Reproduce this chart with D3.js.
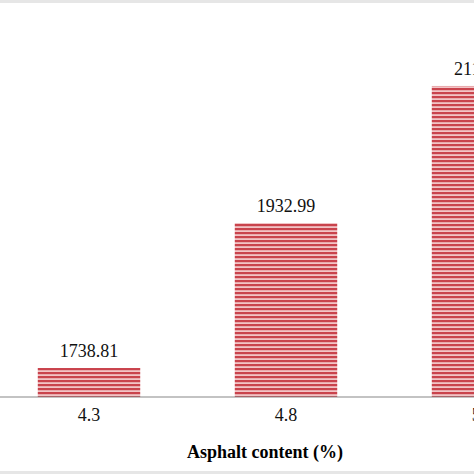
<!DOCTYPE html>
<html>
<head>
<meta charset="utf-8">
<script src="https://cdn.jsdelivr.net/npm/d3@7"></script>
<style>
  body { margin: 0; background: #fff; }
</style>
</head>
<body>
<svg id="chart" width="474" height="474"></svg>
<script>
// chart data
const categories = ["4.3", "4.8", "5.3"];
const values = [1738.81, 1932.99, 2116.47];
const valueLabels = ["1738.81", "1932.99", "2116.47"];
const axisTitle = "Asphalt content (%)";

const serif = "'Liberation Serif', 'Times New Roman', Tinos, serif";
const svg = d3.select("#chart");
const width = 474, height = 474;
const baseY = 397;

// frame lines (top and bottom edges of the cropped figure)
svg.append("rect").attr("x", 0).attr("y", 0).attr("width", width).attr("height", 3).attr("fill", "#e6e6e6");
svg.append("rect").attr("x", 0).attr("y", 471).attr("width", width).attr("height", 3).attr("fill", "#e6e6e6");

// stripe pattern for bars
const defs = svg.append("defs");
const pat = defs.append("pattern")
    .attr("id", "stripes")
    .attr("patternUnits", "userSpaceOnUse")
    .attr("width", 8).attr("height", 4);
pat.append("rect").attr("width", 8).attr("height", 4).attr("fill", "#f2c4c6");
pat.append("rect").attr("y", 0).attr("width", 8).attr("height", 2.2).attr("fill", "#c9434c");

// scales: x band extends past the right edge (figure is cropped)
const x = d3.scaleBand()
    .domain(categories)
    .range([-9.5, 581.5])
    .paddingInner(0.48)
    .paddingOuter(0.24);

const y = d3.scaleLinear()
    .domain([1700, 1932.99])
    .range([baseY, 223]);

// bars
svg.selectAll("rect.bar")
    .data(values)
    .enter()
    .append("rect")
    .attr("class", "bar")
    .attr("x", (d, i) => x(categories[i]))
    .attr("y", d => y(d))
    .attr("width", x.bandwidth())
    .attr("height", d => baseY - y(d))
    .attr("fill", "url(#stripes)");

// value labels
svg.selectAll("text.val")
    .data(values)
    .enter()
    .append("text")
    .attr("class", "val")
    .attr("x", (d, i) => x(categories[i]) + x.bandwidth() / 2)
    .attr("y", d => y(d) - 11)
    .attr("text-anchor", "middle")
    .style("font-family", serif)
    .style("font-size", "18px")
    .attr("fill", "#111")
    .text((d, i) => valueLabels[i]);

// x axis
const axis = svg.append("g")
    .attr("transform", `translate(0,${baseY})`)
    .call(d3.axisBottom(x).tickSize(0).tickPadding(11));
axis.select(".domain").attr("stroke", "#888").attr("stroke-width", 1.2).attr("d", `M0,0H${width}`);
axis.selectAll(".tick text")
    .style("font-family", serif)
    .style("font-size", "18px")
    .attr("fill", "#111");

// axis title
svg.append("text")
    .attr("x", 265)
    .attr("y", 458)
    .attr("text-anchor", "middle")
    .style("font-family", serif)
    .style("font-size", "18px")
    .style("font-weight", "bold")
    .text(axisTitle);
</script>
</body>
</html>
